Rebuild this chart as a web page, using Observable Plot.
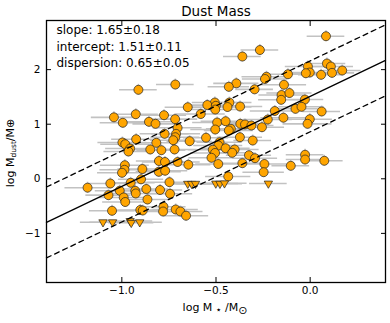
<!DOCTYPE html>
<html><head><meta charset="utf-8">
<script src="https://cdn.jsdelivr.net/npm/d3@7"></script>
<script src="https://cdn.jsdelivr.net/npm/@observablehq/plot@0.6"></script>
<style>body{margin:0;background:#fff} svg{font-family:"DejaVu Sans",sans-serif}</style>
</head><body><div id="chart"></div>
<script>
// detections (circles): log M*/Msun, log Mdust/Mearth, x error
const detX = [0.084,-0.267,-0.360,-0.912,-0.716,-0.012,0.089,0.110,0.170,0.116,0.058,-0.002,-0.023,-0.118,-0.232,-0.240,-0.139,-0.392,-0.432,-0.295,-0.152,-0.110,-0.154,-0.028,-0.506,-0.546,-0.429,-0.501,-0.650,-0.439,-0.372,-0.581,-0.776,-0.926,-1.042,-0.717,-0.188,-0.078,-0.046,0.061,-0.142,-0.002,-0.014,-0.225,-0.504,-0.494,-0.449,-0.995,-0.856,-0.821,-0.704,-0.504,-0.421,-0.432,-0.371,-0.346,-0.312,-0.256,-0.773,-0.712,-0.716,-0.727,-0.924,-0.997,-0.982,-0.817,-0.640,-0.553,-0.373,-0.305,-0.481,-0.488,-0.449,-0.401,-0.517,-0.414,-0.505,-0.325,-0.293,-0.524,-0.027,-0.027,0.075,-0.956,-0.965,-0.849,-0.790,-0.720,-0.488,-0.360,-0.243,-0.103,-0.247,-0.435,-0.984,-0.986,-0.999,-0.803,-0.771,-0.704,-0.647,-0.891,-0.804,-0.770,-0.898,-0.953,-1.061,-1.182,-0.747,-1.011,-0.929,-0.926,-0.870,-0.797,-0.744,-1.071,-0.990,-0.982,-0.864,-1.052,-0.902,-0.889,-0.779,-0.781,-0.714,-0.689,-0.659];
const detY = [2.612,2.359,2.240,1.630,1.727,2.057,2.112,2.057,1.984,1.941,1.905,1.947,1.934,1.916,1.870,1.828,1.723,1.749,1.685,1.639,1.535,1.571,1.447,1.452,1.397,1.352,1.397,1.337,1.311,1.315,1.324,1.187,1.165,1.183,1.126,1.093,1.242,1.282,1.319,1.233,1.119,1.092,1.007,1.086,1.269,1.031,1.055,1.026,1.044,1.007,0.934,0.903,0.916,0.885,1.007,0.995,0.976,0.945,0.824,0.824,0.762,0.707,0.725,0.665,0.634,0.659,0.689,0.753,0.762,0.701,0.670,0.610,0.560,0.537,0.533,0.476,0.473,0.432,0.377,0.385,0.440,0.353,0.330,0.555,0.500,0.537,0.524,0.537,0.271,0.286,0.271,0.238,0.121,0.042,0.249,0.165,0.110,0.326,0.308,0.308,0.258,0.179,0.128,0.148,-0.009,-0.073,-0.086,-0.163,-0.062,-0.218,-0.220,-0.269,-0.187,-0.205,-0.275,-0.300,-0.342,-0.425,-0.379,-0.586,-0.571,-0.581,-0.511,-0.599,-0.562,-0.599,-0.676];
const detXErr = [0.10,0.10,0.10,0.10,0.10,0.12,0.10,0.12,0.10,0.12,0.12,0.13,0.12,0.13,0.13,0.12,0.12,0.12,0.11,0.10,0.12,0.12,0.12,0.10,0.12,0.12,0.12,0.13,0.12,0.13,0.12,0.13,0.12,0.12,0.12,0.12,0.13,0.12,0.12,0.10,0.12,0.12,0.13,0.13,0.13,0.13,0.13,0.12,0.13,0.12,0.13,0.13,0.13,0.13,0.13,0.13,0.12,0.12,0.13,0.13,0.13,0.12,0.13,0.13,0.13,0.12,0.12,0.12,0.12,0.10,0.12,0.13,0.13,0.13,0.13,0.12,0.13,0.12,0.12,0.12,0.10,0.10,0.10,0.13,0.13,0.12,0.13,0.12,0.12,0.12,0.12,0.10,0.11,0.12,0.13,0.13,0.13,0.12,0.12,0.12,0.12,0.13,0.12,0.12,0.12,0.13,0.12,0.12,0.12,0.13,0.13,0.12,0.12,0.12,0.12,0.12,0.13,0.12,0.12,0.12,0.12,0.12,0.12,0.12,0.12,0.12,0.12];
const yErr = 0.1;
// upper limits (down triangles)
const limX = [-1.100,-1.049,-0.956,-0.950,-0.905,-0.650,-0.629,-0.609,-0.501,-0.479,-0.455,-0.222];
const limY = [-0.795,-0.795,-0.773,-0.806,-0.795,-0.090,-0.092,-0.090,-0.086,-0.090,-0.082,-0.086];
const limXErr = [0.12,0.12,0.12,0.12,0.12,0.10,0.10,0.10,0.12,0.12,0.12,0.10];
// fit
const slope = 1.65, intercept = 1.51, dispersion = 0.65;
const xDomain = [-1.4, 0.4], yDomain = [-1.9, 2.9];
const xTicks = [-1.0, -0.5, 0.0], yTicks = [-1, 0, 1, 2];
const title = "Dust Mass";
const annotations = ["slope: 1.65±0.18", "intercept: 1.51±0.11", "dispersion: 0.65±0.05"];

const det = detX.map((x, i) => ({x, y: detY[i], e: detXErr[i]}));
const lim = limX.map((x, i) => ({x, y: limY[i], e: limXErr[i]}));
const fit = xDomain.map(x => ({x, y: slope * x + intercept}));
const upper = fit.map(d => ({x: d.x, y: d.y + dispersion}));
const lower = fit.map(d => ({x: d.x, y: d.y - dispersion}));

const chart = Plot.plot({
  width: 390, height: 323,
  marginLeft: 46, marginRight: 5, marginTop: 20, marginBottom: 41,
  style: {fontFamily: "DejaVu Sans, sans-serif", fontSize: "10.5px", color: "#000", background: "#fff"},
  x: {domain: xDomain},
  y: {domain: yDomain},
  marks: [
    Plot.ruleY([...det, ...lim], {y: "y", x1: d => d.x - d.e, x2: d => d.x + d.e, stroke: "#c2c2c2", strokeWidth: 1.6}),
    Plot.ruleX(det, {x: "x", y1: d => d.y - yErr, y2: d => d.y + yErr, stroke: "#c2c2c2", strokeWidth: 1.6}),
    Plot.dot(det, {x: "x", y: "y", r: 4.5, fill: "#FFA500", stroke: "#222", strokeWidth: 0.7}),
    Plot.dot(lim, {x: "x", y: "y", symbol: "triangle", rotate: 180, r: 3.1, fill: "#FFA500", stroke: "#222", strokeWidth: 0.7}),
    Plot.line(fit, {x: "x", y: "y", stroke: "#000", strokeWidth: 1.3}),
    Plot.line(upper, {x: "x", y: "y", stroke: "#000", strokeWidth: 1.3, strokeDasharray: "5,4"}),
    Plot.line(lower, {x: "x", y: "y", stroke: "#000", strokeWidth: 1.3, strokeDasharray: "5,4"}),
    Plot.frame({stroke: "#000", strokeWidth: 1.3}),
    Plot.axisX({ticks: xTicks, tickFormat: d3.format(".1f"), tickSize: -5, tickPadding: 9, label: null}),
    Plot.axisX({anchor: "top", ticks: xTicks, tickFormat: () => "", tickSize: -5, label: null}),
    Plot.axisY({ticks: yTicks, tickFormat: d3.format("d"), tickSize: -5, tickPadding: 11, label: null}),
    Plot.axisY({anchor: "right", ticks: yTicks, tickFormat: () => "", tickSize: -5, label: null}),
    Plot.text([annotations.join("\n")], {frameAnchor: "top-left", dx: 10, dy: 2, lineAnchor: "top", textAnchor: "start", fontSize: 12, lineHeight: 1.38}),
    Plot.text([title], {frameAnchor: "top", dy: -9, fontSize: 13.5, lineAnchor: "middle"})
  ]
});
document.getElementById("chart").appendChild(chart);

const svg = d3.select(chart);
// x axis label: log M⋆/M⊙
const xl = svg.append("text").attr("x", 215).attr("y", 311).attr("text-anchor", "middle")
  .attr("font-size", 11).attr("fill", "#000");
xl.append("tspan").text("log M");
xl.append("tspan").attr("dy", 2).attr("font-size", 10).text(" \u22C6 ");
xl.append("tspan").attr("dy", -2).text("/M");
xl.append("tspan").attr("dy", 3).attr("font-size", 11).text("\u2299");
// y axis label: log M_dust/M⊕
const yl = svg.append("text").attr("transform", "translate(14,153) rotate(-90)").attr("text-anchor", "middle")
  .attr("font-size", 11).attr("fill", "#000");
yl.append("tspan").text("log M");
yl.append("tspan").attr("dy", 2).attr("font-size", 7.5).text("dust");
yl.append("tspan").attr("dy", -2).text("/M\u2295");
</script>
</body></html>
